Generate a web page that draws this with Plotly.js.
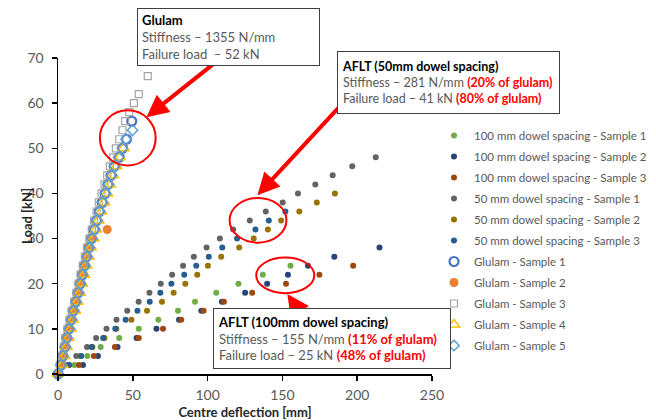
<!DOCTYPE html>
<html>
<head>
<meta charset="utf-8">
<script src="https://cdn.plot.ly/plotly-3.0.1.min.js"></script>
<style>html,body{margin:0;padding:0;background:#fff;}#chart{width:656px;height:420px;}</style>
</head>
<body>
<div id="chart"></div>
<script>
// ---------- DATA ----------
const load100_1 = [0, 2, 4, 6, 8, 10, 12, 14, 16, 18, 20, 22, 24];
const defl100_1 = [0, 11, 19.6, 28.5, 40.9, 54, 67.1, 80.2, 91.6, 105.8, 120.6, 136.9, 155.4];
const load100_2 = [0, 2, 4, 6, 8, 10, 12, 14, 16, 18, 20, 22, 24, 26, 28];
const defl100_2 = [0, 16.7, 26.7, 39.8, 52.5, 65.8, 80.9, 95.8, 109.6, 125.1, 139.8, 153.7, 167.1, 184.7, 214.9];
const load100_3 = [0, 2, 4, 6, 8, 10, 12, 14, 16, 18, 20, 22, 24];
const defl100_3 = [0, 14, 24, 38, 54, 70.2, 82.4, 97.3, 110.9, 129.8, 152.4, 174.7, 197.3];

const load50_1 = [0, 2, 4, 6, 8, 10, 12, 14, 16, 18, 20, 22, 24, 26, 28, 30, 32, 34, 36, 38, 40, 42, 44, 46, 48];
const defl50_1 = [0, 5, 12.2, 19.4, 25.5, 32.4, 39.1, 46.3, 53.9, 61.1, 68.7, 76.3, 83.6, 90.8, 99.3, 108.2, 117.1, 128.2, 138.9, 150.2, 160.4, 172, 183.6, 196.7, 212.4];
const load50_2 = [0, 2, 4, 6, 8, 10, 12, 14, 16, 18, 20, 22, 24, 26, 28, 30, 32, 34, 36, 38, 40];
const defl50_2 = [0, 7, 15, 23, 31, 39, 49.1, 59.5, 69.5, 77.3, 85.1, 93.1, 100.2, 109.1, 121.1, 130.8, 140.3, 149.2, 161.3, 173, 185.1];
const load50_3 = [0, 2, 4, 6, 8, 10, 12, 14, 16, 18, 20, 22, 24, 26, 28, 30, 32, 34, 36];
const defl50_3 = [0, 7.5, 15.5, 22.5, 30.2, 38.3, 45.2, 53.1, 61.3, 68.4, 75.8, 84.4, 92.4, 100.8, 109.8, 119.7, 132, 140.9, 152];

const loadG1 = [0, 2, 4, 6, 8, 10, 12, 14, 16, 18, 20, 22, 24, 26, 28, 30, 32, 34, 36, 38, 40, 42, 44, 46, 48, 50, 52, 56];
const deflG1 = [0, 2, 3.2, 4.7, 5.8, 7.3, 8.7, 10.2, 11.8, 13.4, 14.8, 16.2, 17.8, 19.1, 20.7, 22.4, 24.2, 25.8, 27.6, 29.5, 31.5, 33.4, 35.5, 37.6, 40.9, 43.2, 45.8, 49.3];
const loadG2 = [0, 2, 4, 6, 8, 10, 12, 14, 16, 18, 20, 22, 24, 26, 28, 30, 32];
const deflG2 = [0, 1.6, 2.8, 4.3, 5.4, 6.9, 8.3, 9.8, 11.3, 12.9, 14.3, 15.8, 17.3, 18.7, 20.2, 21.9, 32.9];
const loadG3 = [0, 2, 4, 6, 8, 10, 12, 14, 16, 18, 20, 22, 24, 26, 28, 30, 32, 34, 36, 38, 40, 42, 44, 46, 48, 50, 52, 54, 56, 58, 60, 62, 66];
const deflG3 = [0, 1.3, 2.5, 3.9, 5, 6.4, 7.8, 9.2, 10.8, 12.3, 13.7, 15.1, 16.6, 18, 19.5, 21, 22.6, 24.1, 25.8, 27.3, 29.1, 31.1, 32.9, 34.7, 36.9, 38.7, 40.9, 43.1, 44.9, 47.6, 50.7, 54, 60];
const loadG4 = [0, 2, 4, 6, 8, 10, 12, 14, 16, 18, 20, 22, 24, 26, 28, 30, 32, 34, 36, 38, 40, 42, 44, 46, 48, 50];
const deflG4 = [0, 3, 4.3, 5.8, 7, 8.5, 9.9, 11.4, 13, 14.6, 16, 17.5, 19, 20.4, 22, 23.7, 25.5, 27.1, 29, 30.9, 32.8, 34.8, 36.9, 39, 41.2, 43.8];
const loadG5 = [0, 2, 4, 6, 8, 10, 12, 14, 16, 18, 20, 22, 24, 26, 28, 30, 32, 34, 36, 38, 40, 42, 44, 46, 48, 50, 52, 54];
const deflG5 = [0, 2.1, 3.4, 4.9, 6.1, 7.6, 9, 10.5, 12.1, 13.7, 15.1, 16.5, 18.1, 19.5, 21, 22.7, 24.5, 26.1, 27.9, 29.8, 31.8, 33.7, 35.8, 37.9, 40.5, 43, 45.5, 49.8];

const seriesNames = [
  '100 mm dowel spacing - Sample 1', '100 mm dowel spacing - Sample 2', '100 mm dowel spacing - Sample 3',
  '50 mm dowel spacing - Sample 1', '50 mm dowel spacing - Sample 2', '50 mm dowel spacing - Sample 3',
  'Glulam - Sample 1', 'Glulam - Sample 2', 'Glulam - Sample 3', 'Glulam - Sample 4', 'Glulam - Sample 5'
];
const xTicks = [0, 50, 100, 150, 200, 250];
const yTicks = [0, 10, 20, 30, 40, 50, 60, 70];
const xTitle = 'Centre deflection [mm]';
const yTitle = 'Load [kN]';

// ---------- STYLES ----------
const FONT = 'Lato, "Open Sans", "DejaVu Sans", sans-serif';
const GRAY_TXT = '#595959';
function dot(color) { return {symbol: 'circle', size: 6, color: color}; }
function openM(sym, color, size, w) { return {symbol: sym, size: size, color: color, line: {color: color, width: w}}; }

const xs = [defl100_1, defl100_2, defl100_3, defl50_1, defl50_2, defl50_3, deflG1, deflG2, deflG3, deflG4, deflG5];
const ys = [load100_1, load100_2, load100_3, load50_1, load50_2, load50_3, loadG1, loadG2, loadG3, loadG4, loadG5];
const markers = [
  dot('#70AD47'), dot('#264478'), dot('#9E480E'),
  dot('#636363'), dot('#997300'), dot('#255E91'),
  openM('circle-open', '#4472C4', 9, 2.2),
  {symbol: 'circle', size: 9, color: '#ED7D31'},
  openM('square-open', '#A5A5A5', 7, 1.2),
  openM('triangle-up-open', '#FFC000', 10, 1.5),
  openM('diamond-open', '#5B9BD5', 8, 1.5)
];

const traces = seriesNames.map((n, i) => ({
  type: 'scatter', mode: 'markers', name: n, x: xs[i], y: ys[i], marker: markers[i],
  legendgroup: 'g' + i, cliponaxis: false
}));

// pixel helpers for callout placement (plot area 58..432 x 58..374)
const PX0 = 58, PX1 = 432, PY0 = 58, PY1 = 374;
const px = v => (v - PX0) / (PX1 - PX0);
const py = v => (PY1 - v) / (PY1 - PY0);

const red = 'color:#FF0000';
const boxFont = {family: FONT, size: 13, color: GRAY_TXT};
const boxFont2 = {family: FONT, size: 12.5, color: GRAY_TXT};
const arrowStyle = {text: '', showarrow: true, arrowhead: 2, arrowsize: 1.1, arrowwidth: 4, arrowcolor: '#FF0000', standoff: 0, xref: 'x', yref: 'y'};
const annotations = [
  Object.assign({x: 59.1, y: 56.9, ax: 68, ay: -54}, arrowStyle),
  Object.assign({x: 133.3, y: 39.6, ax: 90, ay: -97}, arrowStyle),
  Object.assign({x: 153.3, y: 17.7, ax: 18, ay: 26}, arrowStyle),
  {xref: 'paper', yref: 'paper', x: px(137), y: py(7.5), xanchor: 'left', yanchor: 'top', showarrow: false,
   align: 'left', width: 173, height: 48, borderpad: 4, bordercolor: '#404040', borderwidth: 1, bgcolor: '#FFFFFF', font: boxFont,
   text: '<b><span style="color:#000000">Glulam</span></b><br>Stiffness – 1355 N/mm<br>Failure load  – 52 kN'},
  {xref: 'paper', yref: 'paper', x: px(337), y: py(51), xanchor: 'left', yanchor: 'top', showarrow: false,
   align: 'left', width: 213, height: 53, borderpad: 4, bordercolor: '#404040', borderwidth: 1, bgcolor: '#FFFFFF', font: boxFont2,
   text: '<b><span style="color:#000000">AFLT (50mm dowel spacing)</span></b><br>Stiffness – 281 N/mm <b><span style="' + red + '">(20% of glulam)</span></b><br>Failure load – 41 kN <b><span style="' + red + '">(80% of glulam)</span></b>'},
  {xref: 'paper', yref: 'paper', x: px(213), y: py(308), xanchor: 'left', yanchor: 'top', showarrow: false,
   align: 'left', width: 228, height: 51, borderpad: 4, bordercolor: '#404040', borderwidth: 1, bgcolor: '#FFFFFF', font: boxFont,
   text: '<b><span style="color:#000000">AFLT (100mm dowel spacing)</span></b><br>Stiffness – 155 N/mm <b><span style="' + red + '">(11% of glulam)</span></b><br>Failure load – 25 kN <b><span style="' + red + '">(48% of glulam)</span></b>'},
  // y-axis title
  {xref: 'paper', yref: 'paper', x: px(19), y: py(216), xanchor: 'center', yanchor: 'middle', xshift: 8, showarrow: false,
   textangle: -90, text: '<b>' + yTitle + '</b>', font: {family: FONT, size: 13, color: '#262626'}}
];

const ellipseLine = {color: '#FF0000', width: 2};
const shapes = [
  {type: 'circle', xref: 'x', yref: 'y', x0: 28, x1: 65.3, y0: 46.2, y1: 58.4, line: ellipseLine, layer: 'above'},
  {type: 'circle', xref: 'x', yref: 'y', x0: 114.7, x1: 152.7, y0: 29.1, y1: 39, line: ellipseLine, layer: 'above'},
  {type: 'circle', xref: 'x', yref: 'y', x0: 132.5, x1: 171.3, y0: 17.9, y1: 25.8, line: ellipseLine, layer: 'above'}
];

const axisCommon = {showgrid: false, zeroline: false, showline: true, linecolor: '#000000', linewidth: 1.5,
  ticks: 'outside', ticklen: 5, tickwidth: 1.5, tickcolor: '#000000',
  tickfont: {family: FONT, size: 14, color: GRAY_TXT}, automargin: false};

const layout = {
  width: 656, height: 420,
  margin: {l: PX0, r: 656 - PX1, t: PY0, b: 420 - PY1, pad: 0, autoexpand: false},
  paper_bgcolor: '#FFFFFF', plot_bgcolor: '#FFFFFF',
  font: {family: FONT, color: GRAY_TXT},
  showlegend: true,
  legend: {x: px(434), xanchor: 'left', y: py(121), yanchor: 'top', bgcolor: 'rgba(0,0,0,0)',
    font: {family: FONT, size: 11.5, color: GRAY_TXT}, tracegroupgap: 2},
  xaxis: Object.assign({}, axisCommon, {range: [0, 250], tickvals: xTicks, ticktext: xTicks.map(String), ticklabelstandoff: 3,
    title: {text: '<b>' + xTitle + '</b>', font: {family: FONT, size: 13, color: '#262626'}, standoff: 6}}),
  yaxis: Object.assign({}, axisCommon, {range: [0, 70], tickvals: yTicks, ticktext: yTicks.map(String), ticklabelstandoff: 5}),
  xaxis2: {overlaying: 'x', anchor: 'y', range: [0, 250], tickvals: xTicks, showticklabels: false, showgrid: false, zeroline: false,
    showline: false, ticks: 'inside', ticklen: 5, tickwidth: 1.5, tickcolor: '#000000'},
  yaxis2: {overlaying: 'y', anchor: 'x', range: [0, 70], tickvals: yTicks, showticklabels: false, showgrid: false, zeroline: false,
    showline: false, ticks: 'inside', ticklen: 5, tickwidth: 1.5, tickcolor: '#000000'},
  annotations: annotations,
  shapes: shapes
};

Plotly.newPlot('chart', traces, layout, {displayModeBar: false, staticPlot: true});
</script>
</body>
</html>
